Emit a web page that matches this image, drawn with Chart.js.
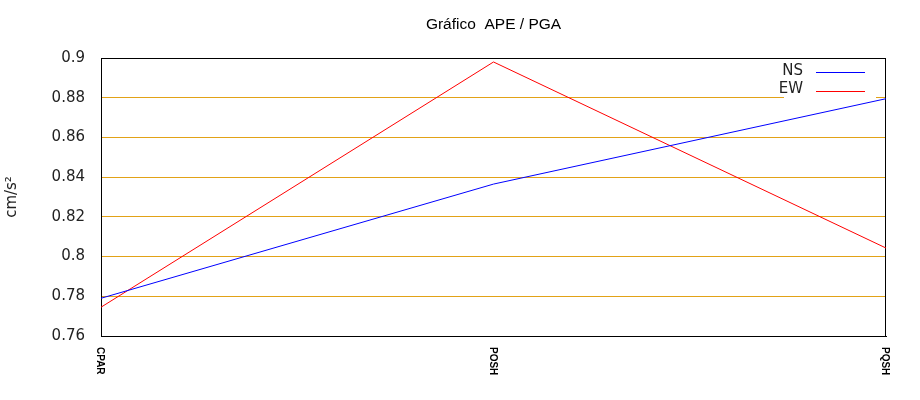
<!DOCTYPE html>
<html>
<head>
<meta charset="utf-8">
<script src="https://cdn.jsdelivr.net/npm/chart.js@4/dist/chart.umd.min.js"></script>
<style>
html,body{margin:0;padding:0;background:#fff;}
#wrap{width:920px;height:400px;}
</style>
</head>
<body>
<div id="wrap"><canvas id="c" width="920" height="400"></canvas></div>
<script>
const titleText = 'Gráfico  APE / PGA';
const yAxisTitle = 'cm/s²';
const categories = ['CPAR', 'POSH', 'PQSH'];
const seriesNames = ['NS', 'EW'];
const nsValues = [0.779, 0.8365, 0.8795];
const ewValues = [0.7745, 0.898, 0.8043];
const yMin = 0.76;
const yMax = 0.9;
const yStep = 0.02;

const GRID = 'rgb(226,162,23)';

const frameAndLegend = {
  id: 'frameAndLegend',
  beforeDatasetsDraw(chart) {
    const {ctx, chartArea: a} = chart;
    ctx.save();
    ctx.fillStyle = '#ffffff';
    ctx.fillRect(a.right - 102, a.top + 3, 92, 38);
    ctx.strokeStyle = '#000';
    ctx.lineWidth = 1;
    ctx.strokeRect(Math.round(a.left) + 0.5, Math.round(a.top) + 0.5,
                   Math.round(a.right - a.left) - 1, Math.round(a.bottom - a.top));
    ctx.restore();
  },
  afterDraw(chart) {
    const {ctx, chartArea: a} = chart;
    ctx.save();
    ctx.font = '15px "DejaVu Sans"';
    ctx.textAlign = 'right';
    ctx.textBaseline = 'middle';
    chart.data.datasets.forEach((ds, i) => {
      const y = a.top + 14 + i * 18.5;
      ctx.fillStyle = '#222';
      ctx.fillText(ds.label, a.right - 83, y - 1);
      ctx.strokeStyle = ds.borderColor;
      ctx.lineWidth = 1;
      ctx.beginPath();
      ctx.moveTo(a.right - 70, Math.round(y) + 0.5);
      ctx.lineTo(a.right - 21, Math.round(y) + 0.5);
      ctx.stroke();
    });
    const xs = chart.scales.x;
    ctx.font = 'bold 10px "Liberation Sans Narrow", "Liberation Sans", sans-serif';
    ctx.fillStyle = '#000';
    ctx.textAlign = 'left';
    ctx.textBaseline = 'middle';
    categories.forEach((c, i) => {
      const x = xs.getPixelForTick(i) - 1;
      ctx.save();
      ctx.translate(x, a.bottom + 11);
      ctx.rotate(Math.PI / 2);
      ctx.fillText(c, 0, 0);
      ctx.restore();
    });
    ctx.restore();
  }
};

new Chart(document.getElementById('c'), {
  type: 'line',
  data: {
    labels: categories,
    datasets: [
      {label: seriesNames[0], data: nsValues, borderColor: '#0000ff', backgroundColor: '#0000ff',
       borderWidth: 1, pointRadius: 0, tension: 0, fill: false},
      {label: seriesNames[1], data: ewValues, borderColor: '#ff0000', backgroundColor: '#ff0000',
       borderWidth: 1, pointRadius: 0, tension: 0, fill: false}
    ]
  },
  options: {
    responsive: false,
    animation: false,
    layout: {padding: {left: 0, right: 34, top: 0, bottom: 0}},
    plugins: {
      legend: {display: false},
      tooltip: {enabled: false},
      title: {
        display: true,
        text: titleText,
        fullSize: false,
        color: '#000',
        font: {family: '"Liberation Sans", Arial, sans-serif', size: 15.5, weight: 'normal'},
        padding: {top: 15.5, bottom: 23.9}
      }
    },
    scales: {
      x: {
        type: 'category',
        offset: false,
        grid: {display: false, drawTicks: false},
        border: {display: true, color: '#000'},
        ticks: {display: false},
        afterFit(s) { s.height = 64; }
      },
      y: {
        min: yMin,
        max: yMax,
        grid: {color: GRID, lineWidth: 1, drawTicks: false},
        border: {display: true, color: '#000'},
        ticks: {
          stepSize: yStep,
          padding: 16,
          color: '#222',
          font: {family: '"DejaVu Sans"', size: 15},
          callback: v => String(Number(v.toFixed(2)))
        },
        title: {
          display: true,
          text: yAxisTitle,
          color: '#222',
          font: {family: '"DejaVu Sans"', size: 15},
          padding: {top: 3.5, bottom: 0}
        },
        afterFit(s) { s.width = 101; }
      }
    }
  },
  plugins: [frameAndLegend]
});
</script>
</body>
</html>
